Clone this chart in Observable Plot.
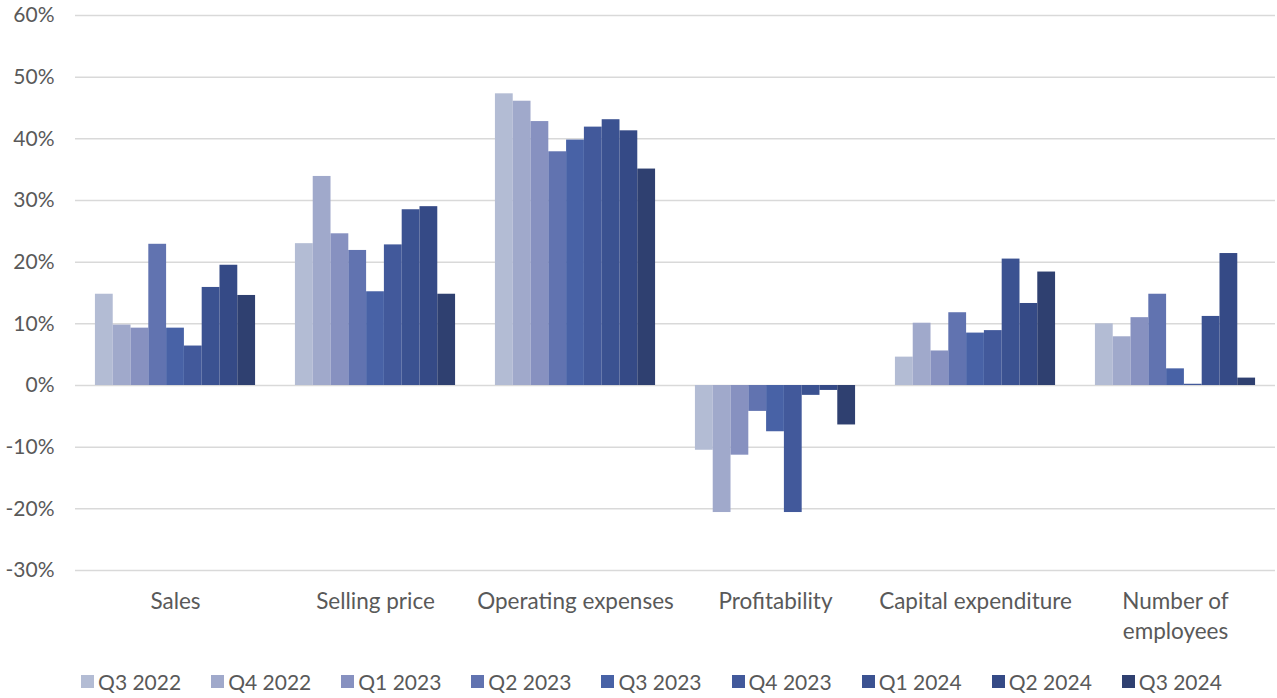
<!DOCTYPE html>
<html>
<head>
<meta charset="utf-8">
<script src="https://cdn.jsdelivr.net/npm/d3@7"></script>
<script src="https://cdn.jsdelivr.net/npm/@observablehq/plot@0.6"></script>
<style>
  html, body { margin: 0; padding: 0; background: #fff; }
  body { width: 1277px; font-family: Lato, sans-serif; }
  #legend { display: flex; justify-content: center; margin-top: 7px; padding-left: 26px; }
  #legend .item { display: flex; align-items: center; margin: 0 15px; font-size: 21px; color: #595959; }
  #legend .sw { width: 13px; height: 13px; margin-right: 4px; }
</style>
</head>
<body>
<div id="chart"></div>
<div id="legend"></div>
<script>
// Survey indicators by quarter (share of respondents, net balance)
const categories = ["Sales", "Selling price", "Operating expenses", "Profitability", "Capital expenditure", "Number of\nemployees"];
const quarters = ["Q3 2022", "Q4 2022", "Q1 2023", "Q2 2023", "Q3 2023", "Q4 2023", "Q1 2024", "Q2 2024", "Q3 2024"];
const colors = ["#b3bcd4", "#a0a9cb", "#8791c0", "#6173b0", "#4862a6", "#42599b", "#3b5291", "#354a86", "#2f4070"];
const yTicks = [-0.3, -0.2, -0.1, 0, 0.1, 0.2, 0.3, 0.4, 0.5, 0.6];

const sales        = [0.148, 0.098, 0.093, 0.229, 0.093, 0.064, 0.159, 0.195, 0.146];
const sellingPrice = [0.230, 0.339, 0.246, 0.219, 0.152, 0.228, 0.285, 0.290, 0.148];
const opExpenses   = [0.473, 0.461, 0.428, 0.379, 0.398, 0.419, 0.431, 0.413, 0.351];
const profitability= [-0.105, -0.206, -0.113, -0.042, -0.075, -0.206, -0.016, -0.008, -0.064];
const capex        = [0.046, 0.101, 0.056, 0.118, 0.085, 0.089, 0.205, 0.133, 0.184];
const employees    = [0.100, 0.079, 0.110, 0.148, 0.027, 0.002, 0.112, 0.214, 0.012];

const series = [sales, sellingPrice, opExpenses, profitability, capex, employees];
const rows = categories.flatMap((c, i) => quarters.map((q, j) => ({category: c, quarter: q, value: series[i][j]})));

const chart = Plot.plot({
  width: 1277,
  height: 662,
  marginTop: 15,
  marginBottom: 92,
  marginLeft: 75,
  marginRight: 2,
  style: {fontFamily: "Lato, sans-serif", fontSize: "20px", color: "#595959", background: "#fff", overflow: "visible"},
  fx: {domain: categories, padding: 0, round: false, label: null},
  x: {domain: quarters, paddingInner: 0, paddingOuter: 1.12, round: false, axis: null},
  y: {domain: [-0.3, 0.6], label: null},
  color: {domain: quarters, range: colors},
  marks: [
    Plot.ruleY(yTicks, {stroke: "#d9d9d9", strokeWidth: 1.5}),
    Plot.barY(rows, {fx: "category", x: "quarter", y: "value", fill: "quarter", insetLeft: 0, insetRight: 0}),
    Plot.axisY({ticks: yTicks, tickFormat: d => `${Math.round(d * 100)}%`, tickSize: 0, tickPadding: 21, fontSize: 21, fill: "#595959", label: null}),
    Plot.axisFx({anchor: "bottom", tickSize: 0, tickPadding: 17, fontSize: 22.5, fill: "#595959", label: null, lineHeight: 1.33})
  ]
});
document.getElementById("chart").append(chart);

const legend = document.getElementById("legend");
quarters.forEach((q, i) => {
  const item = document.createElement("div");
  item.className = "item";
  const sw = document.createElement("span");
  sw.className = "sw";
  sw.style.background = colors[i];
  item.append(sw, document.createTextNode(q));
  legend.append(item);
});
</script>
</body>
</html>
